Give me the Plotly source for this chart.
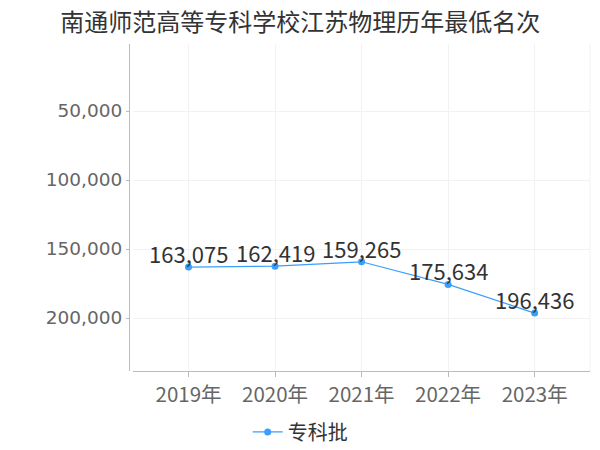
import plotly.graph_objects as go

title = "南通师范高等专科学校江苏物理历年最低名次"
years = ["2019年", "2020年", "2021年", "2022年", "2023年"]
ranks = [163075, 162419, 159265, 175634, 196436]
series_name = "专科批"
ytick_vals = [50000, 100000, 150000, 200000]
ytick_text = ["50,000", "100,000", "150,000", "200,000"]

cjk = "Noto Sans CJK SC, sans-serif"
dv = "DejaVu Sans, Noto Sans CJK SC, sans-serif"
blue = "#3a9efc"

fig = go.Figure()
fig.add_trace(go.Scatter(
    x=years, y=ranks, name=series_name,
    mode="lines+markers",
    line=dict(color=blue, width=1.2),
    marker=dict(color=blue, size=7),
    cliponaxis=False,
))
for yr, v in zip(years, ranks):
    fig.add_annotation(x=yr, y=v, text=f"{v:,}", showarrow=False,
                       xanchor="center", yanchor="bottom", yshift=-4,
                       font=dict(size=22, color="#333333", family=cjk))

fig.update_layout(
    width=600, height=450,
    paper_bgcolor="white", plot_bgcolor="white",
    margin=dict(l=121, r=18, t=36, b=87),
    title=dict(text=title, x=0.487, xref="container", xanchor="center",
               y=0.968, yanchor="middle",
               font=dict(size=24, color="#333333", family=cjk)),
    showlegend=True,
    legend=dict(orientation="h", xref="container", x=0.487, xanchor="center",
                yref="container", y=0.058, yanchor="middle",
                font=dict(size=20, color="#333333", family=cjk)),
    xaxis=dict(
        domain=[0.009, 1], range=[-0.64, 4.64], automargin=False,
        showline=True, linecolor="#bbbbbb", linewidth=1,
        ticks="outside", ticklen=5, tickcolor="#bbbbbb",
        showgrid=True, gridcolor="#f2f2f2",
        tickfont=dict(size=20.5, color="#666666", family=cjk),
        zeroline=False,
    ),
    yaxis=dict(
        range=[238400, 1450], anchor="free", position=0, automargin=False,
        tickvals=ytick_vals, ticktext=ytick_text,
        showline=True, linecolor="#bbbbbb", linewidth=1,
        ticks="outside", ticklen=3, tickcolor="#bbbbbb",
        showgrid=True, gridcolor="#f2f2f2", zeroline=False,
        tickfont=dict(size=18.5, color="#666666", family=dv),
    ),
)
fig.add_shape(type="line", xref="paper", yref="paper", x0=1, x1=1, y0=0, y1=1,
              line=dict(color="#f2f2f2", width=1))

fig.write_html("out.html")
